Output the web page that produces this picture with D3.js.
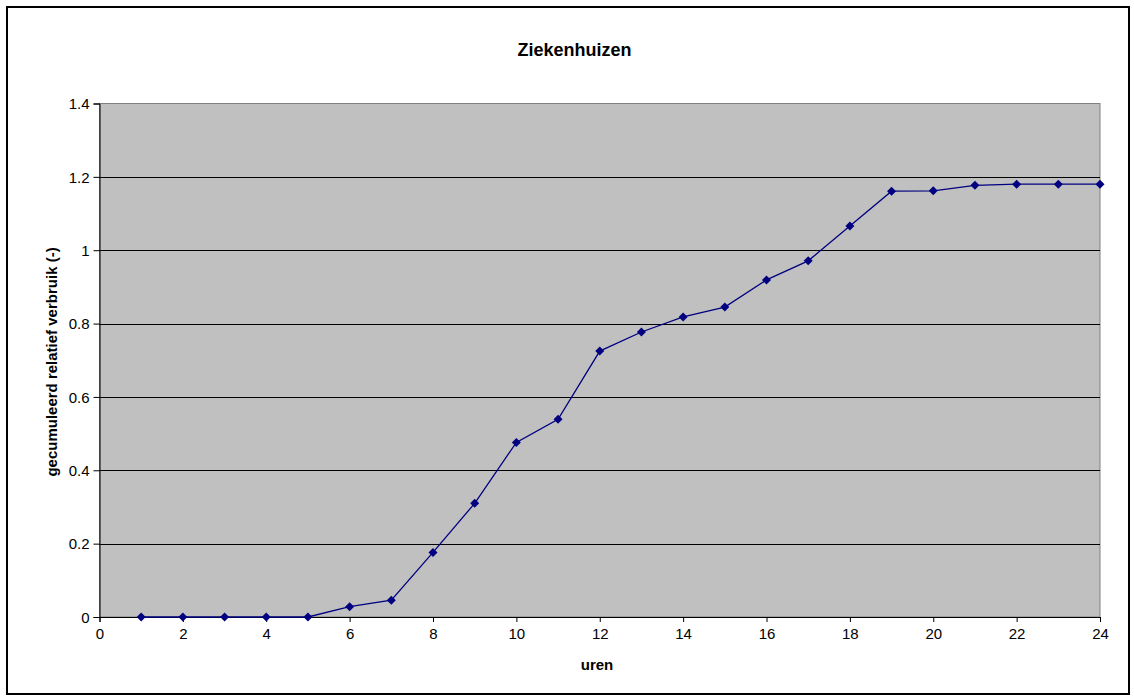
<!DOCTYPE html>
<html><head><meta charset="utf-8">
<script src="https://cdn.jsdelivr.net/npm/d3@7"></script>
<style>body{margin:0;background:#fff;} svg{display:block;font-family:Arial,"Liberation Sans",sans-serif;}</style>
</head><body>
<script>
const hours = [1,2,3,4,5,6,7,8,9,10,11,12,13,14,15,16,17,18,19,20,21,22,23,24];
const values = [0,0,0,0,0,0.028,0.046,0.176,0.310,0.476,0.539,0.725,0.777,0.818,0.845,0.919,0.971,1.066,1.161,1.162,1.177,1.180,1.180,1.180];
const xTicks = [0,2,4,6,8,10,12,14,16,18,20,22,24];
const yTicks = [0,0.2,0.4,0.6,0.8,1,1.2,1.4];
const title = "Ziekenhuizen";
const xTitle = "uren";
const yTitle = "gecumuleerd relatief verbruik (-)";

const W=1134,H=700;
const svg=d3.select("body").append("svg").attr("width",W).attr("height",H);
svg.append("rect").attr("x",7).attr("y",7).attr("width",1122).attr("height",687).attr("fill","#fff").attr("stroke","#000").attr("stroke-width",2);

const L=99.5,R=1100,T=103.5,B=617;
const x=d3.scaleLinear().domain([0,24]).range([L,R]);
const y=d3.scaleLinear().domain([0,1.4]).range([B,T]);

svg.append("rect").attr("x",L).attr("y",T).attr("width",R-L).attr("height",B-T).attr("fill","#c0c0c0").attr("stroke","#808080").attr("stroke-width",1);

svg.append("g").selectAll("line").data(yTicks.filter(d=>d>0&&d<1.4)).join("line")
 .attr("x1",L).attr("x2",R).attr("y1",d=>Math.round(y(d))+0.5).attr("y2",d=>Math.round(y(d))+0.5)
 .attr("stroke","#000").attr("stroke-width",1);

const gx=svg.append("g").attr("transform",`translate(0,${B})`)
 .call(d3.axisBottom(x).tickValues(xTicks).tickSize(5).tickPadding(6).tickFormat(d3.format("d")));
const gy=svg.append("g").attr("transform",`translate(${L},0)`)
 .call(d3.axisLeft(y).tickValues(yTicks).tickSize(6).tickPadding(4).tickFormat(d=>d===0?"0":d===1?"1":d3.format(".1f")(d)));
[gx,gy].forEach(g=>{g.selectAll("text").attr("font-size",15).attr("fill","#000").attr("font-family","Arial,'Liberation Sans',sans-serif");
 g.selectAll("line").attr("stroke","#000"); g.select(".domain").attr("stroke","#000");});
gy.selectAll("text").attr("dy","0.35em");

const line=d3.line().x((d,i)=>x(hours[i])).y(d=>y(d));
svg.append("path").datum(values).attr("d",line).attr("fill","none").attr("stroke","#000080").attr("stroke-width",1.3);
svg.append("g").selectAll("path").data(values).join("path")
 .attr("transform",(d,i)=>`translate(${x(hours[i])},${y(d)})`)
 .attr("d","M0,-4.5L4.5,0L0,4.5L-4.5,0Z").attr("fill","#000080");

svg.append("text").attr("x",574.5).attr("y",56).attr("text-anchor","middle").attr("font-weight","bold").attr("font-size",18).text(title);
svg.append("text").attr("x",597).attr("y",670).attr("text-anchor","middle").attr("font-weight","bold").attr("font-size",15).text(xTitle);
svg.append("text").attr("transform","translate(57,362) rotate(-90)").attr("text-anchor","middle").attr("font-weight","bold").attr("font-size",15).text(yTitle);
</script>
</body></html>
